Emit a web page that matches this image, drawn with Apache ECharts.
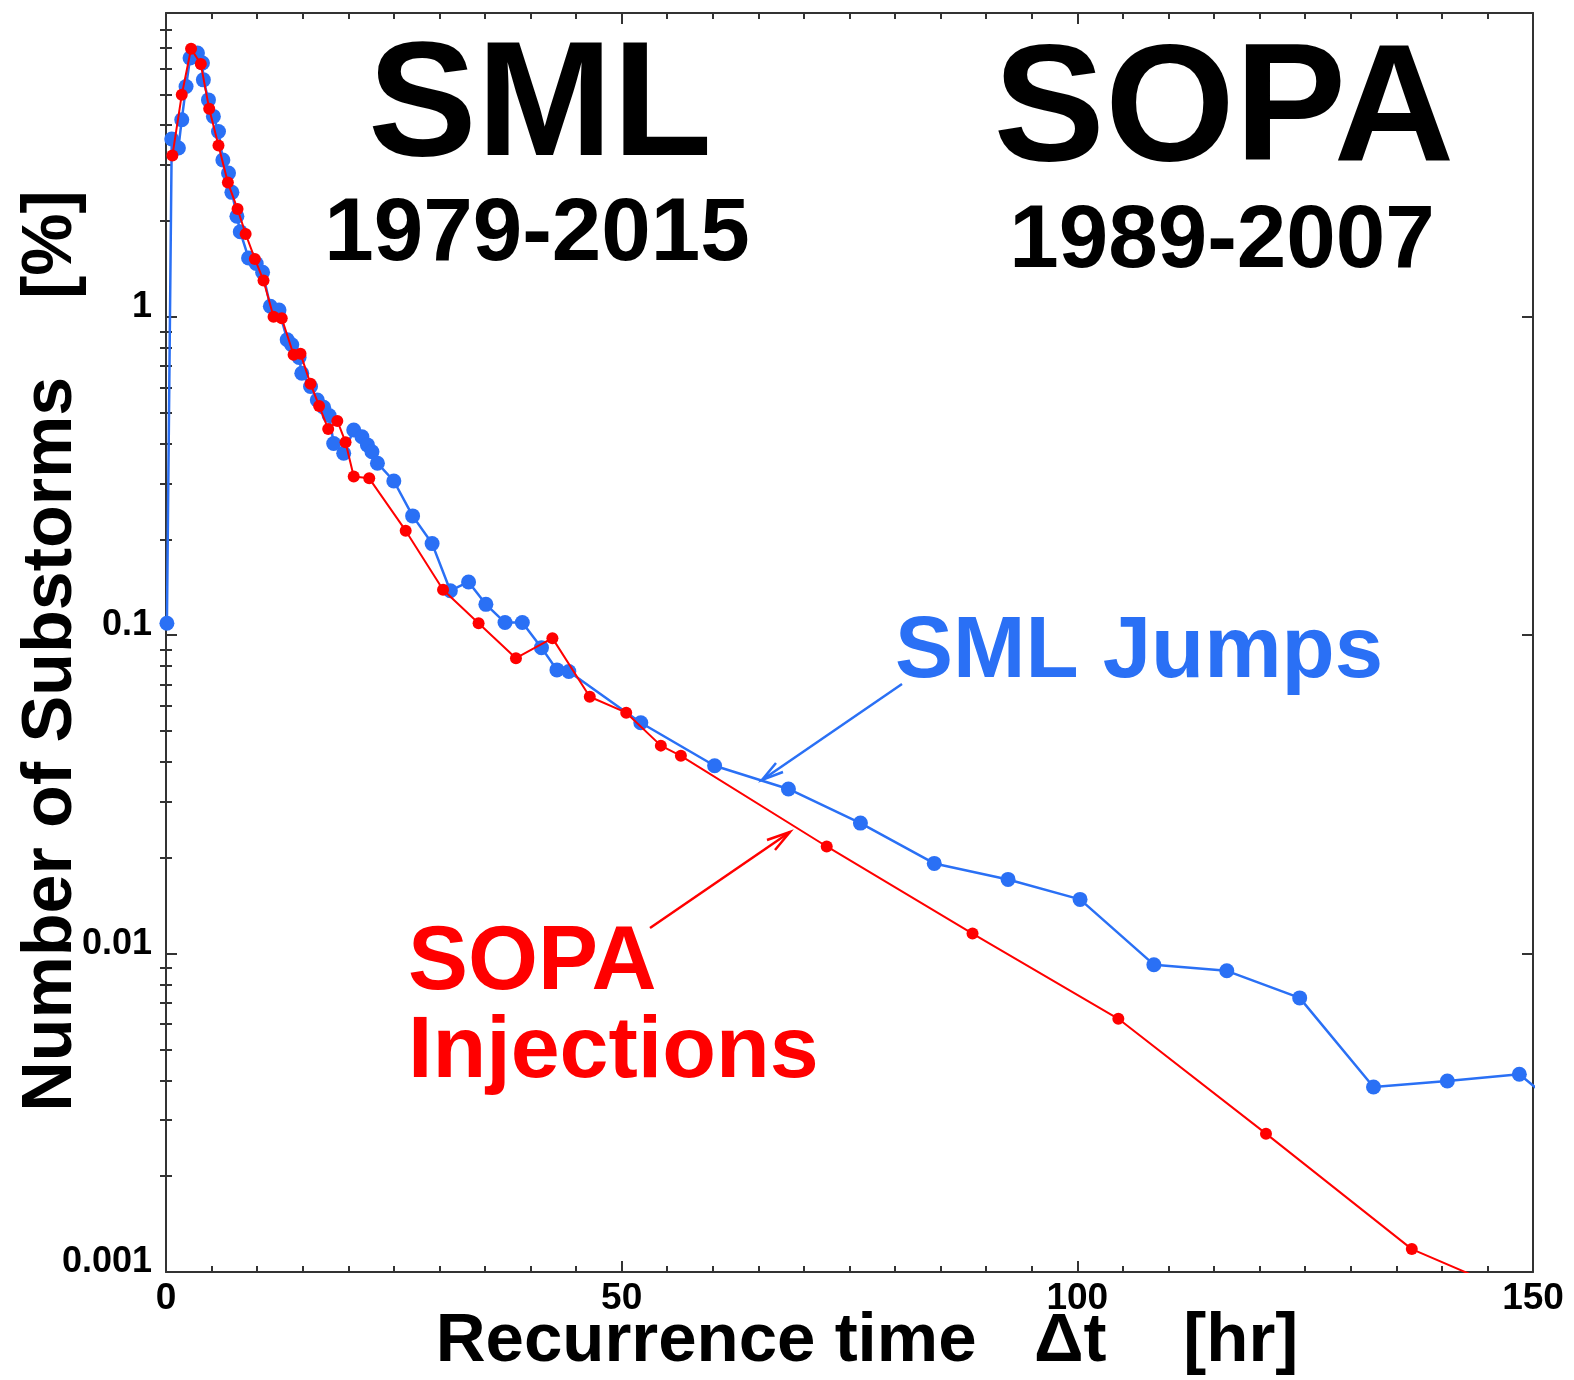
<!DOCTYPE html>
<html>
<head>
<meta charset="utf-8">
<title>Recurrence time of substorms</title>
<script src="https://cdn.jsdelivr.net/npm/echarts@6/dist/echarts.min.js"></script>
<style>
  html, body { margin: 0; padding: 0; background: #fff; }
  #chart { width: 1574px; height: 1380px; }
</style>
</head>
<body>
<div id="chart"></div>
<script>
// SML jumps (blue), recurrence time [hr] and percentage
const smlHours = [0.1, 0.63, 1.36, 1.73, 2.2, 2.64, 3.45, 4.0, 4.1, 4.66, 5.2, 5.76, 6.24, 6.86, 7.23, 7.78, 8.15,
  9.06, 9.9, 10.6, 11.45, 12.4, 13.3, 13.8, 14.6, 14.9, 15.86, 16.6, 17.3, 17.9, 18.4, 19.5, 20.6, 21.5, 22.1,
  22.6, 23.2, 25.0, 27.06, 29.2, 31.2, 33.2, 35.1, 37.2, 39.1, 41.2, 42.9, 44.2, 52.1, 60.2, 68.3, 76.2, 84.3,
  92.4, 100.3, 108.4, 116.4, 124.4, 132.5, 140.6, 148.5, 156.5]
const smlPercent = [0.109, 3.62, 3.39, 4.16, 5.29, 6.5, 6.74, 6.27, 5.55, 4.8, 4.26, 3.82, 3.11, 2.83, 2.46, 2.07, 1.85,
  1.53, 1.47, 1.38, 1.08, 1.05, 0.847, 0.817, 0.745, 0.665, 0.604, 0.548, 0.52, 0.49, 0.40, 0.373, 0.441, 0.42, 0.396,
  0.377, 0.347, 0.305, 0.237, 0.194, 0.138, 0.147, 0.125, 0.1096, 0.1096, 0.0914, 0.0778, 0.0769, 0.0531, 0.0389, 0.0329, 0.0257, 0.0192,
  0.0171, 0.0148, 0.00923, 0.00883, 0.00726, 0.00381, 0.00398, 0.00418, 0.0027]

// SOPA injections (red)
const sopaHours = [0.7, 1.73, 2.75, 3.82, 4.74, 5.76, 6.79, 7.85, 8.74, 9.75, 10.7, 11.8, 12.7, 14.0, 14.76, 15.86,
  16.8, 17.8, 18.8, 19.7, 20.6, 22.3, 26.3, 30.4, 34.3, 38.4, 42.4, 46.5, 50.5, 54.3, 56.5, 72.5, 88.5, 104.5,
  120.7, 136.7, 152.7]
const sopaPercent = [3.21, 4.98, 6.95, 6.22, 4.5, 3.45, 2.64, 2.18, 1.82, 1.52, 1.3, 1.0, 0.99, 0.76, 0.765, 0.616,
  0.525, 0.444, 0.471, 0.404, 0.315, 0.311, 0.213, 0.139, 0.109, 0.0847, 0.0979, 0.0641, 0.0571, 0.045, 0.0418, 0.0217, 0.01156, 0.00624,
  0.00272, 0.00118, 0.00075]

// tick labels
const xTickLabels = [0, 50, 100, 150]
const xMajorTicks = [50, 100]
const yTickLabels = [0.001, 0.01, 0.1, 1]
const yMinorTicks = [0.002, 0.003, 0.004, 0.005, 0.006, 0.007, 0.008, 0.009,
  0.02, 0.03, 0.04, 0.05, 0.06, 0.07, 0.08, 0.09,
  0.2, 0.3, 0.4, 0.5, 0.6, 0.7, 0.8, 0.9,
  2, 3, 4, 5, 6, 7, 8]

const BLUE = '#2a70f5'
const RED = '#ff0000'
const AXIS = '#333'
const FONT = '"Liberation Sans", Arial, Helvetica, sans-serif'

const toPairs = (xs, ys) => xs.map((x, i) => [x, ys[i]])

// 坐标轴的公共设置
function xAxisDef(position, opts) {
  return Object.assign({
    type: 'value',
    position: position,
    min: 0,
    max: 150,
    interval: 5,
    splitLine: { show: false },
    axisLine: { show: true, onZero: false, lineStyle: { color: AXIS, width: 2 } },
    axisTick: { show: true, inside: true, length: 6, lineStyle: { color: AXIS, width: 2 } },
    axisLabel: { show: false },
  }, opts)
}

function yAxisDef(position, opts) {
  return Object.assign({
    type: 'log',
    logBase: 10,
    position: position,
    min: 0.001,
    max: 9,
    splitLine: { show: false },
    axisLine: { show: true, onZero: false, lineStyle: { color: AXIS, width: 2 } },
    axisTick: { show: true, inside: true, length: 6, customValues: yMinorTicks, lineStyle: { color: AXIS, width: 2 } },
    axisLabel: { show: false },
  }, opts)
}

const option = {
  animation: false,
  backgroundColor: '#fff',
  grid: { left: 166, right: 41, top: 13, bottom: 108, containLabel: false, outerBoundsMode: 'none' },
  xAxis: [
    xAxisDef('bottom', {}),
    xAxisDef('bottom', {
      axisLine: { show: false },
      axisTick: { show: true, inside: true, length: 11, customValues: xMajorTicks, lineStyle: { color: AXIS, width: 2 } },
      axisLabel: {
        show: true, customValues: xTickLabels, margin: 8,
        color: '#000', fontFamily: FONT, fontWeight: 'bold', fontSize: 37,
      },
    }),
    xAxisDef('top', {}),
    xAxisDef('top', {
      axisLine: { show: false },
      axisTick: { show: true, inside: true, length: 11, customValues: xMajorTicks, lineStyle: { color: AXIS, width: 2 } },
    }),
  ],
  yAxis: [
    yAxisDef('left', {
      axisTick: { show: true, inside: true, length: 11, customValues: yTickLabels, lineStyle: { color: AXIS, width: 2 } },
      axisLabel: {
        show: true, customValues: yTickLabels, margin: 14,
        verticalAlign: 'bottom', lineHeight: 20,
        color: '#000', fontFamily: FONT, fontWeight: 'bold', fontSize: 36,
        formatter: (v) => String(+v.toPrecision(3)),
      },
    }),
    yAxisDef('left', { axisLine: { show: false } }),
    yAxisDef('right', {
      axisTick: { show: true, inside: true, length: 11, customValues: yTickLabels, lineStyle: { color: AXIS, width: 2 } },
    }),
    yAxisDef('right', { axisLine: { show: false } }),
  ],
  series: [
    {
      name: 'SML Jumps',
      type: 'line',
      xAxisIndex: 0,
      yAxisIndex: 0,
      data: toPairs(smlHours, smlPercent),
      symbol: 'circle',
      symbolSize: 15,
      showAllSymbol: true,
      clip: true,
      itemStyle: { color: BLUE },
      lineStyle: { color: BLUE, width: 2.5 },
      z: 2,
    },
    {
      name: 'SOPA Injections',
      type: 'line',
      xAxisIndex: 0,
      yAxisIndex: 0,
      data: toPairs(sopaHours, sopaPercent),
      symbol: 'circle',
      symbolSize: 12,
      showAllSymbol: true,
      clip: true,
      itemStyle: { color: RED },
      lineStyle: { color: RED, width: 2 },
      z: 3,
    },
  ],
  graphic: [
    { type: 'text', style: { text: 'SML', x: 540, y: 110, align: 'center', verticalAlign: 'middle', fontFamily: FONT, fontWeight: 'bold', fontSize: 163, fill: '#000' } },
    { type: 'text', style: { text: '1979-2015', x: 537, y: 235, align: 'center', verticalAlign: 'middle', fontFamily: FONT, fontWeight: 'bold', fontSize: 89, fill: '#000' } },
    { type: 'text', style: { text: 'SOPA', x: 1224, y: 114, align: 'center', verticalAlign: 'middle', fontFamily: FONT, fontWeight: 'bold', fontSize: 167, fill: '#000' } },
    { type: 'text', style: { text: '1989-2007', x: 1222, y: 242, align: 'center', verticalAlign: 'middle', fontFamily: FONT, fontWeight: 'bold', fontSize: 89, fill: '#000' } },
    { type: 'text', style: { text: 'SML Jumps', x: 1139, y: 653, align: 'center', verticalAlign: 'middle', fontFamily: FONT, fontWeight: 'bold', fontSize: 87, fill: BLUE } },
    { type: 'text', style: { text: 'SOPA', x: 408, y: 964, align: 'left', verticalAlign: 'middle', fontFamily: FONT, fontWeight: 'bold', fontSize: 90, fill: RED } },
    { type: 'text', style: { text: 'Injections', x: 408, y: 1053, align: 'left', verticalAlign: 'middle', fontFamily: FONT, fontWeight: 'bold', fontSize: 88, fill: RED } },
    // 坐标轴标题
    { type: 'text', style: { text: 'Recurrence time   \u0394t    [hr]', x: 867, y: 1342, align: 'center', verticalAlign: 'middle', fontFamily: FONT, fontWeight: 'bold', fontSize: 69, fill: '#000' } },
    { type: 'text', x: 52, y: 651, rotation: Math.PI / 2, style: { text: 'Number of Substorms    [%]', x: 0, y: 0, align: 'center', verticalAlign: 'middle', fontFamily: FONT, fontWeight: 'bold', fontSize: 70, fill: '#000' } },
    // 箭头
    { type: 'polyline', shape: { points: [[902, 684], [762, 780]] }, style: { stroke: BLUE, lineWidth: 2.5, fill: null } },
    { type: 'polyline', shape: { points: [[783, 772], [762, 780], [776, 763]] }, style: { stroke: BLUE, lineWidth: 2.5, fill: null } },
    { type: 'polyline', shape: { points: [[650, 928], [790, 832]] }, style: { stroke: RED, lineWidth: 2.5, fill: null } },
    { type: 'polyline', shape: { points: [[767, 840], [790, 832], [775, 850]] }, style: { stroke: RED, lineWidth: 2.5, fill: null } },
  ],
}

const chart = echarts.init(document.getElementById('chart'))
chart.setOption(option)
</script>
</body>
</html>
